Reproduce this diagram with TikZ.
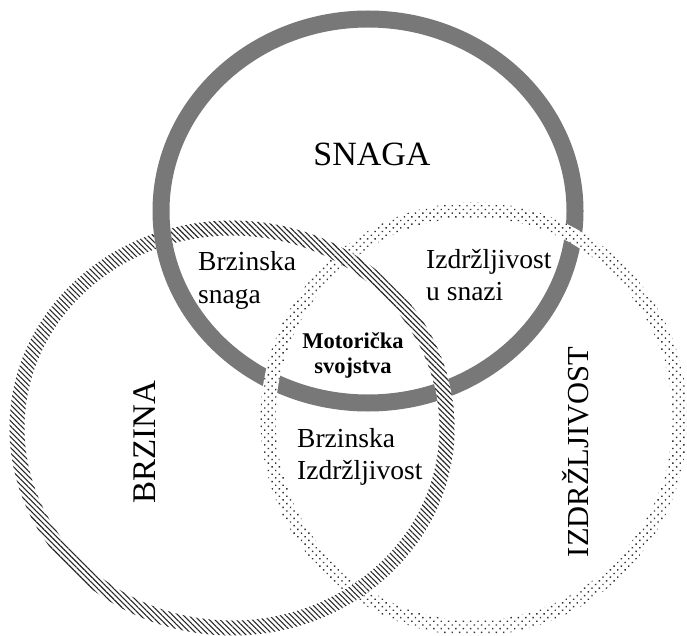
\documentclass[tikz,border=0pt]{standalone}
\usepackage{fontspec}
\setmainfont{Liberation Serif}
\usetikzlibrary{patterns.meta}
\newcommand\annulus[5]{(#1,#2) ellipse [x radius={#3+#5/2}, y radius={#4+#5/2}] (#1,#2) ellipse [x radius={#3-#5/2}, y radius={#4-#5/2}]}
\newcommand\ringB{\annulus{232}{428}{215}{200}{15}}
\newcommand\ringS{\annulus{368}{211}{207}{192}{17}}
\newcommand\ringI{\annulus{474}{419}{206}{209}{15}}
\begin{document}
\begin{tikzpicture}[x=1pt,y=-1pt,
  backing/.style={fill=white,even odd rule},
  snagafill/.style={fill=black!53,even odd rule},
  brzinafill/.style={pattern={Lines[angle=-45,distance=3.8pt,line width=1.1pt]},pattern color=black!85,even odd rule},
  izdrfill/.style={pattern={Dots[radius=1pt,distance=5.2pt,angle=45]},pattern color=black!80,even odd rule},
  mid/.style={font=\fontsize{27.5}{32.5}\selectfont,align=left,inner sep=0pt},
  bold/.style={font=\fontsize{22.5}{25}\selectfont\bfseries,align=center,inner sep=0pt}]
\useasboundingbox (0,0) rectangle (687,636);
% BRZINA ring
\fill[backing] \ringB;
\fill[brzinafill] \ringB;
% SNAGA ring
\fill[backing] \ringS;
\fill[snagafill] \ringS;
% IZDRZLJIVOST ring
\fill[backing] \ringI;
\fill[izdrfill] \ringI;
% BRZINA ring over the dotted one where they cross
\begin{scope}[even odd rule]
\clip \ringI;
\fill[backing] \ringB;
\fill[brzinafill] \ringB;
\end{scope}
% BRZINA ring over SNAGA at the right crossing
\begin{scope}
\clip (400,300) rectangle (480,460);
\fill[backing] \ringB;
\fill[brzinafill] \ringB;
\end{scope}
% labels
\node[font=\fontsize{34}{36}\selectfont,anchor=base] (snaga) at (372,166) {SNAGA};
\node[font=\fontsize{33}{36}\selectfont,rotate=90,anchor=base] (brzina) at (155,442) {BRZINA};
\node[font=\fontsize{30.5}{34}\selectfont,rotate=90,anchor=base] (izdr) at (588,452) {IZDRŽLJIVOST};
\node[mid,anchor=west] (bs) at (198,280.5) {Brzinska\\snaga};
\node[mid,anchor=west] (iu) at (426,275) {Izdržljivost\\u snazi};
\node[bold] (ms) at (353,355) {Motorička\\svojstva};
\node[mid,anchor=west] (bi) at (297,457) {Brzinska\\Izdržljivost};
\end{tikzpicture}
\end{document}
